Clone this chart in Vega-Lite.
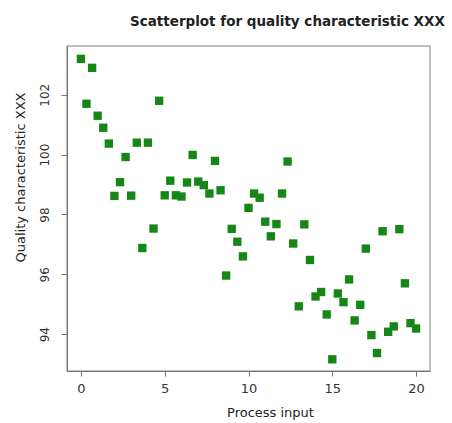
{
  "$schema": "https://vega.github.io/schema/vega-lite/v6.json",
  "width": 363,
  "height": 325,
  "autosize": {"type": "none"},
  "padding": {"left": 67, "top": 46, "right": 22, "bottom": 52},
  "background": "white",
  "title": {
    "text": "Scatterplot for quality characteristic XXX",
    "anchor": "start",
    "frame": "group",
    "dx": 63,
    "offset": 18,
    "font": "DejaVu Sans",
    "fontSize": 13.5,
    "fontWeight": "bold",
    "color": "#222"
  },
  "config": {
    "view": {"stroke": "#aaaaaa", "strokeWidth": 1.5},
    "axis": {
      "grid": false,
      "domainColor": "#777777",
      "tickColor": "#777777",
      "labelColor": "#333333",
      "titleColor": "#222222",
      "labelFont": "DejaVu Sans",
      "titleFont": "DejaVu Sans",
      "titleFontWeight": "normal"
    }
  },
  "data": {
    "values": [
      {"x": 0.0, "y": 103.2}, {"x": 0.333, "y": 101.7}, {"x": 0.667, "y": 102.9},
      {"x": 1.0, "y": 101.3}, {"x": 1.333, "y": 100.9}, {"x": 1.667, "y": 100.37},
      {"x": 2.0, "y": 98.62}, {"x": 2.333, "y": 99.08}, {"x": 2.667, "y": 99.92},
      {"x": 3.0, "y": 98.63}, {"x": 3.333, "y": 100.4}, {"x": 3.667, "y": 96.88},
      {"x": 4.0, "y": 100.4}, {"x": 4.333, "y": 97.53}, {"x": 4.667, "y": 101.8},
      {"x": 5.0, "y": 98.64}, {"x": 5.333, "y": 99.13}, {"x": 5.667, "y": 98.64},
      {"x": 6.0, "y": 98.6}, {"x": 6.333, "y": 99.07}, {"x": 6.667, "y": 99.99},
      {"x": 7.0, "y": 99.1}, {"x": 7.333, "y": 98.98}, {"x": 7.667, "y": 98.7},
      {"x": 8.0, "y": 99.79}, {"x": 8.333, "y": 98.81}, {"x": 8.667, "y": 95.96},
      {"x": 9.0, "y": 97.52}, {"x": 9.333, "y": 97.09}, {"x": 9.667, "y": 96.6},
      {"x": 10.0, "y": 98.22}, {"x": 10.333, "y": 98.7}, {"x": 10.667, "y": 98.56},
      {"x": 11.0, "y": 97.76}, {"x": 11.333, "y": 97.27}, {"x": 11.667, "y": 97.68},
      {"x": 12.0, "y": 98.7}, {"x": 12.333, "y": 99.77}, {"x": 12.667, "y": 97.03},
      {"x": 13.0, "y": 94.93}, {"x": 13.333, "y": 97.67}, {"x": 13.667, "y": 96.48},
      {"x": 14.0, "y": 95.26}, {"x": 14.333, "y": 95.41}, {"x": 14.667, "y": 94.66},
      {"x": 15.0, "y": 93.16}, {"x": 15.333, "y": 95.36}, {"x": 15.667, "y": 95.07},
      {"x": 16.0, "y": 95.83}, {"x": 16.333, "y": 94.46}, {"x": 16.667, "y": 94.98},
      {"x": 17.0, "y": 96.86}, {"x": 17.333, "y": 93.97}, {"x": 17.667, "y": 93.37},
      {"x": 18.0, "y": 97.44}, {"x": 18.333, "y": 94.08}, {"x": 18.667, "y": 94.26},
      {"x": 19.0, "y": 97.51}, {"x": 19.333, "y": 95.7}, {"x": 19.667, "y": 94.37},
      {"x": 20.0, "y": 94.19}
    ]
  },
  "mark": {"type": "point", "shape": "square", "filled": true, "size": 70, "opacity": 1, "color": "#168616"},
  "encoding": {
    "x": {
      "field": "x",
      "type": "quantitative",
      "scale": {"domain": [-0.83, 20.83], "nice": false, "zero": false},
      "axis": {
        "title": "Process input",
        "values": [0, 5, 10, 15, 20],
        "tickSize": 5,
        "labelFontSize": 13,
        "labelPadding": 6,
        "titleFontSize": 13,
        "titleX": 203,
        "titleY": 41,
        "titleAnchor": "middle",
        "titleBaseline": "middle",
        "titleAlign": "center"
      }
    },
    "y": {
      "field": "y",
      "type": "quantitative",
      "scale": {"domain": [92.77, 103.63], "nice": false, "zero": false},
      "axis": {
        "title": "Quality characteristic XXX",
        "values": [94, 96, 98, 100, 102],
        "tickSize": 6,
        "labelAngle": -90,
        "labelAlign": "center",
        "labelBaseline": "bottom",
        "labelPadding": 10,
        "labelFontSize": 12,
        "titleFontSize": 13,
        "titleAngle": -90,
        "titleX": -47,
        "titleY": 131,
        "titleAlign": "center",
        "titleBaseline": "middle"
      }
    }
  }
}
